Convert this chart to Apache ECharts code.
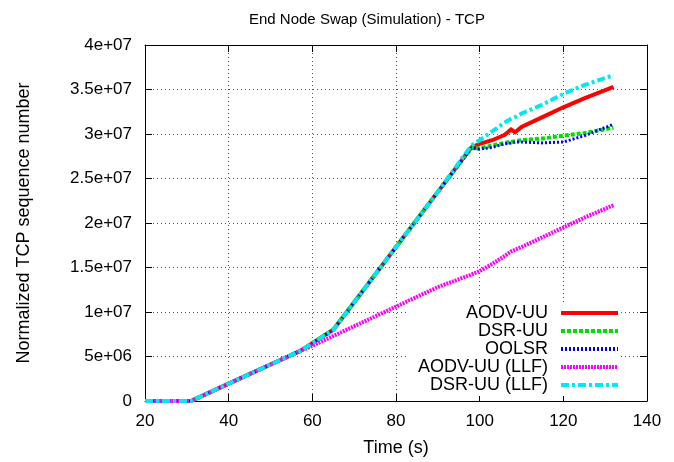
<!DOCTYPE html>
<html>
<head>
<meta charset="utf-8">
<script src="https://cdn.jsdelivr.net/npm/echarts@6/dist/echarts.min.js"></script>
<style>
html,body{margin:0;padding:0;background:#fff;}
#chart{width:674px;height:462px;}
</style>
</head>
<body>
<div id="chart"></div>
<script>
// 数据
var seriesNames = ['AODV-UU', 'DSR-UU', 'OOLSR', 'AODV-UU (LLF)', 'DSR-UU (LLF)'];
var times = [20, 31, 40, 50, 57, 60, 65, 70, 80, 90, 98, 100, 103, 106, 107.5, 108.5, 110, 115, 120, 125, 132];
var aodv = [0, 0, 1.95e6, 4.1e6, 5.6e6, 6.5e6, 8.0e6, 11.1e6, 17.3e6, 23.5e6, 28.5e6, 28.9e6, 29.3e6, 29.9e6, 30.5e6, 30.2e6, 30.8e6, 31.9e6, 33.0e6, 34.0e6, 35.3e6];
var dsr = [0, 0, 1.95e6, 4.1e6, 5.6e6, 6.5e6, 8.0e6, 11.1e6, 17.3e6, 23.5e6, 28.4e6, 28.4e6, 28.7e6, 29.0e6, 29.1e6, 29.2e6, 29.3e6, 29.5e6, 29.8e6, 30.1e6, 30.7e6];
var oolsr = [0, 0, 1.95e6, 4.1e6, 5.6e6, 6.5e6, 8.0e6, 11.1e6, 17.3e6, 23.5e6, 28.4e6, 28.3e6, 28.5e6, 28.9e6, 29.0e6, 29.1e6, 29.1e6, 29.0e6, 29.1e6, 29.8e6, 31.1e6];
var aodvLlf = [0, 0, 1.95e6, 4.1e6, 5.6e6, 6.2e6, 7.3e6, 8.4e6, 10.6e6, 12.8e6, 14.2e6, 14.6e6, 15.4e6, 16.3e6, 16.8e6, 17.0e6, 17.3e6, 18.4e6, 19.5e6, 20.6e6, 22.0e6];
var dsrLlf = [0, 0, 1.95e6, 4.1e6, 5.6e6, 6.5e6, 8.0e6, 11.1e6, 17.3e6, 23.5e6, 28.7e6, 29.3e6, 30.3e6, 31.3e6, 31.7e6, 31.9e6, 32.3e6, 33.3e6, 34.5e6, 35.5e6, 36.6e6];
var yTickLabels = ['0', '5e+06', '1e+07', '1.5e+07', '2e+07', '2.5e+07', '3e+07', '3.5e+07', '4e+07'];

var font = 'Liberation Sans, Arial, Helvetica, sans-serif';

function pairs(vals){
	var out = [];
	for (var i = 0; i < times.length; i++) {
		out.push([times[i], vals[i]]);
	}
	return out;
}

var chart = echarts.init(document.getElementById('chart'));

var lineDefs = [
	{data: aodv, color: '#ff0000', width: 4, type: 'solid'},
	{data: dsr, color: '#00e000', width: 4, type: [4, 2]},
	{data: oolsr, color: '#0000ff', width: 3, type: [2, 2]},
	{data: aodvLlf, color: '#ff00ff', width: 4, type: [2, 1]},
	{data: dsrLlf, color: '#00e8f0', width: 4, type: [8, 3, 3, 3]}
];

var series = [];
var legendData = [];
for (var k = 0; k < lineDefs.length; k++) {
	var d = lineDefs[k];
	series.push({
		name: seriesNames[k],
		type: 'line',
		symbol: 'none',
		animation: false,
		data: pairs(d.data),
		itemStyle: {color: d.color},
		lineStyle: {color: d.color, width: d.width, type: d.type, cap: 'butt', join: 'miter'}
	});
	// 图例线样式
	legendData.push({
		name: seriesNames[k],
		itemStyle: {opacity: 0},
		lineStyle: {color: d.color, width: 4, type: d.type, cap: 'butt'}
	});
}

var tickStyle = {show: true, inside: true, length: 7, lineStyle: {color: '#000', width: 1}};
var gridLine = {show: true, lineStyle: {color: '#555', width: 1, type: [1, 3]}};

var option = {
	backgroundColor: '#fff',
	animation: false,
	title: {
		text: 'End Node Swap (Simulation) - TCP',
		left: 244, top: 7,
		textStyle: {fontFamily: font, fontSize: 15, fontWeight: 'normal', color: '#000'}
	},
	legend: {
		orient: 'vertical',
		right: 54, top: 302,
		align: 'right',
		itemWidth: 57, itemHeight: 14,
		itemGap: 0,
		padding: [2, 0, 2, 10],
		backgroundColor: '#fff',
		textStyle: {fontFamily: font, fontSize: 18, lineHeight: 18, color: '#000', padding: [0, 8, 0, 0]},
		data: legendData
	},
	grid: {left: 145, right: 27, top: 45, bottom: 61},
	xAxis: [{
		type: 'value', min: 20, max: 140, interval: 20,
		name: 'Time (s)', nameLocation: 'middle', nameGap: 38,
		nameTextStyle: {fontFamily: font, fontSize: 18, color: '#000'},
		axisLine: {show: true, onZero: false, lineStyle: {color: '#000', width: 1}},
		axisTick: tickStyle,
		axisLabel: {fontFamily: font, fontSize: 17, color: '#000', margin: 12},
		splitLine: gridLine
	}, {
		type: 'value', min: 20, max: 140, interval: 20, position: 'top',
		axisLine: {show: true, onZero: false, lineStyle: {color: '#000', width: 1}},
		axisTick: tickStyle, axisLabel: {show: false}, splitLine: {show: false}
	}],
	yAxis: [{
		type: 'value', min: 0, max: 4e7, interval: 5e6,
		name: 'Normalized TCP sequence number', nameLocation: 'middle', nameGap: 112,
		nameTextStyle: {fontFamily: font, fontSize: 18, color: '#000'},
		axisLine: {show: true, onZero: false, lineStyle: {color: '#000', width: 1}},
		axisTick: tickStyle,
		axisLabel: {
			fontFamily: font, fontSize: 17, color: '#000', margin: 13,
			formatter: function(v){ return yTickLabels[Math.round(v / 5e6)]; }
		},
		splitLine: gridLine
	}, {
		type: 'value', min: 0, max: 4e7, interval: 5e6, position: 'right',
		axisLine: {show: true, onZero: false, lineStyle: {color: '#000', width: 1}},
		axisTick: tickStyle, axisLabel: {show: false}, splitLine: {show: false}
	}],
	series: series
};
chart.setOption(option);
</script>
</body>
</html>
